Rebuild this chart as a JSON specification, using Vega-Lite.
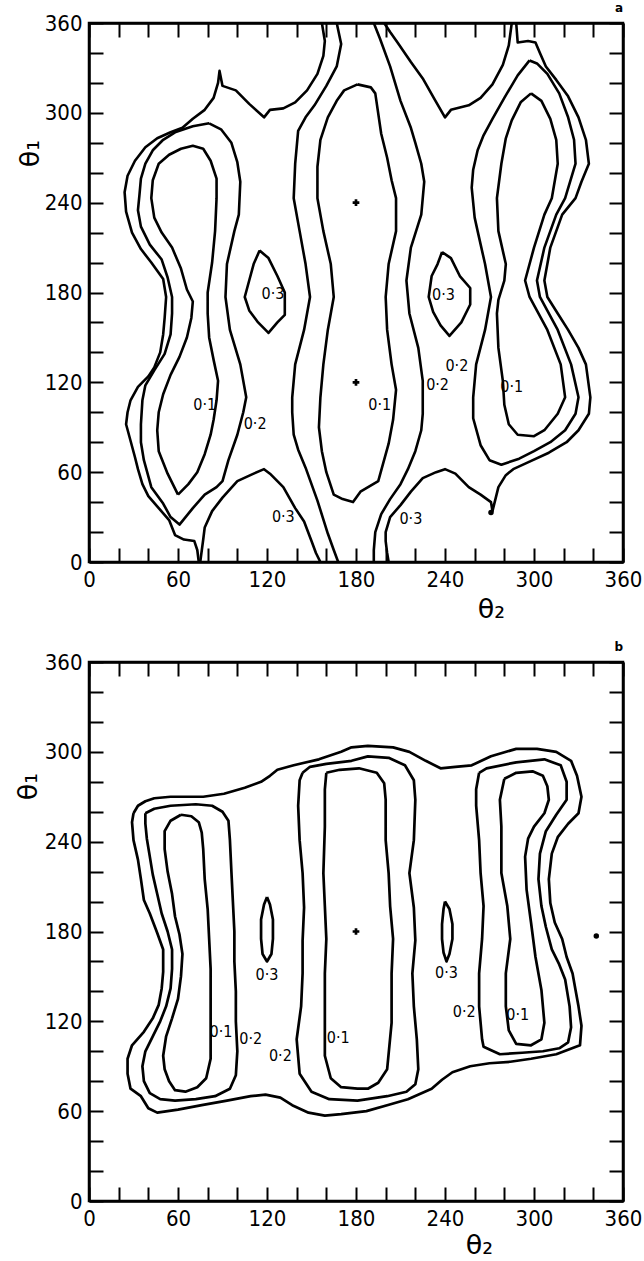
{
"$schema": "https://vega.github.io/schema/vega-lite/v6.json",
"background": "white",
"padding": {"left": 12, "top": 0, "right": 5, "bottom": 0},
"spacing": 15,
"config": {
  "view": {"stroke": "black", "strokeWidth": 2.5},
  "axis": {"grid": false, "domainColor": "black", "domainWidth": 2.5, "tickColor": "black", "tickWidth": 2, "tickSize": -14,
           "values": [0,30,60,90,120,150,180,210,240,270,300,330,360],
           "labelExpr": "datum.value % 60 == 0 ? datum.label : ''",
           "labelFont": "DejaVu Sans Condensed, Liberation Sans Narrow, DejaVu Sans", "labelFontSize": 22, "labelColor": "black",
           "labelFlush": false, "labelOverlap": false, "format": "d",
           "titleFont": "DejaVu Sans", "titleFontSize": 27, "titleFontWeight": "normal", "titleColor": "black"},
  "title": {"fontSize": 12, "fontWeight": "bold", "anchor": "end", "offset": -3, "font": "DejaVu Sans", "frame": "group"}
},
"datasets": {
"contours": [
{"p":"a","c":1,"x":74,"y":0},{"p":"a","c":1,"x":73,"y":8},{"p":"a","c":1,"x":71,"y":14},{"p":"a","c":1,"x":64,"y":15},{"p":"a","c":1,"x":58,"y":18},{"p":"a","c":1,"x":54,"y":28},{"p":"a","c":1,"x":47,"y":36},{"p":"a","c":1,"x":40,"y":44},{"p":"a","c":1,"x":36,"y":52},{"p":"a","c":1,"x":33,"y":62},{"p":"a","c":1,"x":31,"y":70},{"p":"a","c":1,"x":28,"y":81},{"p":"a","c":1,"x":25,"y":92},{"p":"a","c":1,"x":26,"y":100},{"p":"a","c":1,"x":28,"y":108},{"p":"a","c":1,"x":33,"y":117},{"p":"a","c":1,"x":40,"y":124},{"p":"a","c":1,"x":44,"y":130},{"p":"a","c":1,"x":48,"y":140},{"p":"a","c":1,"x":50,"y":152},{"p":"a","c":1,"x":51,"y":163},{"p":"a","c":1,"x":52,"y":177},{"p":"a","c":1,"x":50,"y":189},{"p":"a","c":1,"x":42,"y":200},{"p":"a","c":1,"x":35,"y":209},{"p":"a","c":1,"x":29,"y":220},{"p":"a","c":1,"x":25,"y":234},{"p":"a","c":1,"x":24,"y":247},{"p":"a","c":1,"x":26,"y":258},{"p":"a","c":1,"x":31,"y":268},{"p":"a","c":1,"x":38,"y":277},{"p":"a","c":1,"x":46,"y":283},{"p":"a","c":1,"x":55,"y":287},{"p":"a","c":1,"x":63,"y":290},{"p":"a","c":1,"x":70,"y":296},{"p":"a","c":1,"x":78,"y":302},{"p":"a","c":1,"x":84,"y":310},{"p":"a","c":1,"x":87,"y":320},{"p":"a","c":1,"x":88,"y":328},{"p":"a","c":1,"x":90,"y":318},{"p":"a","c":1,"x":99,"y":315},{"p":"a","c":1,"x":108,"y":306},{"p":"a","c":1,"x":118,"y":297},{"p":"a","c":1,"x":122,"y":302},{"p":"a","c":1,"x":131,"y":303},{"p":"a","c":1,"x":139,"y":307},{"p":"a","c":1,"x":147,"y":315},{"p":"a","c":1,"x":154,"y":326},{"p":"a","c":1,"x":158,"y":338},{"p":"a","c":1,"x":159,"y":348},{"p":"a","c":1,"x":157,"y":360},
{"p":"a","c":2,"x":81,"y":293},{"p":"a","c":2,"x":89,"y":289},{"p":"a","c":2,"x":96,"y":280},{"p":"a","c":2,"x":100,"y":267},{"p":"a","c":2,"x":102,"y":254},{"p":"a","c":2,"x":101,"y":232},{"p":"a","c":2,"x":98,"y":221},{"p":"a","c":2,"x":93,"y":199},{"p":"a","c":2,"x":92,"y":177},{"p":"a","c":2,"x":95,"y":155},{"p":"a","c":2,"x":102,"y":132},{"p":"a","c":2,"x":106,"y":110},{"p":"a","c":2,"x":104,"y":100},{"p":"a","c":2,"x":100,"y":85},{"p":"a","c":2,"x":94,"y":68},{"p":"a","c":2,"x":90,"y":54},{"p":"a","c":2,"x":86,"y":50},{"p":"a","c":2,"x":78,"y":45},{"p":"a","c":2,"x":70,"y":36},{"p":"a","c":2,"x":61,"y":25},{"p":"a","c":2,"x":55,"y":30},{"p":"a","c":2,"x":50,"y":39},{"p":"a","c":2,"x":42,"y":50},{"p":"a","c":2,"x":37,"y":68},{"p":"a","c":2,"x":35,"y":80},{"p":"a","c":2,"x":35,"y":92},{"p":"a","c":2,"x":36,"y":108},{"p":"a","c":2,"x":38,"y":118},{"p":"a","c":2,"x":44,"y":128},{"p":"a","c":2,"x":51,"y":139},{"p":"a","c":2,"x":55,"y":152},{"p":"a","c":2,"x":56,"y":166},{"p":"a","c":2,"x":56,"y":177},{"p":"a","c":2,"x":53,"y":190},{"p":"a","c":2,"x":49,"y":202},{"p":"a","c":2,"x":41,"y":212},{"p":"a","c":2,"x":35,"y":224},{"p":"a","c":2,"x":33,"y":235},{"p":"a","c":2,"x":34,"y":245},{"p":"a","c":2,"x":35,"y":256},{"p":"a","c":2,"x":38,"y":266},{"p":"a","c":2,"x":43,"y":275},{"p":"a","c":2,"x":50,"y":282},{"p":"a","c":2,"x":58,"y":287},{"p":"a","c":2,"x":70,"y":291},{"p":"a","c":2,"x":81,"y":293},
{"p":"a","c":3,"x":60,"y":45},{"p":"a","c":3,"x":53,"y":59},{"p":"a","c":3,"x":47,"y":74},{"p":"a","c":3,"x":46,"y":88},{"p":"a","c":3,"x":47,"y":100},{"p":"a","c":3,"x":50,"y":112},{"p":"a","c":3,"x":55,"y":125},{"p":"a","c":3,"x":61,"y":137},{"p":"a","c":3,"x":66,"y":150},{"p":"a","c":3,"x":69,"y":163},{"p":"a","c":3,"x":70,"y":174},{"p":"a","c":3,"x":66,"y":182},{"p":"a","c":3,"x":62,"y":196},{"p":"a","c":3,"x":56,"y":210},{"p":"a","c":3,"x":49,"y":220},{"p":"a","c":3,"x":44,"y":230},{"p":"a","c":3,"x":42,"y":243},{"p":"a","c":3,"x":43,"y":255},{"p":"a","c":3,"x":47,"y":266},{"p":"a","c":3,"x":54,"y":272},{"p":"a","c":3,"x":62,"y":276},{"p":"a","c":3,"x":70,"y":278},{"p":"a","c":3,"x":77,"y":276},{"p":"a","c":3,"x":82,"y":268},{"p":"a","c":3,"x":86,"y":256},{"p":"a","c":3,"x":86,"y":243},{"p":"a","c":3,"x":85,"y":221},{"p":"a","c":3,"x":83,"y":200},{"p":"a","c":3,"x":80,"y":180},{"p":"a","c":3,"x":80,"y":166},{"p":"a","c":3,"x":81,"y":150},{"p":"a","c":3,"x":84,"y":135},{"p":"a","c":3,"x":87,"y":121},{"p":"a","c":3,"x":86,"y":108},{"p":"a","c":3,"x":84,"y":95},{"p":"a","c":3,"x":82,"y":85},{"p":"a","c":3,"x":78,"y":72},{"p":"a","c":3,"x":73,"y":60},{"p":"a","c":3,"x":67,"y":52},{"p":"a","c":3,"x":60,"y":45},
{"p":"a","c":4,"x":75,"y":0},{"p":"a","c":4,"x":77,"y":15},{"p":"a","c":4,"x":78,"y":23},{"p":"a","c":4,"x":83,"y":34},{"p":"a","c":4,"x":90,"y":43},{"p":"a","c":4,"x":100,"y":54},{"p":"a","c":4,"x":111,"y":59},{"p":"a","c":4,"x":118,"y":62},{"p":"a","c":4,"x":122,"y":59},{"p":"a","c":4,"x":131,"y":50},{"p":"a","c":4,"x":139,"y":36},{"p":"a","c":4,"x":145,"y":27},{"p":"a","c":4,"x":150,"y":14},{"p":"a","c":4,"x":153,"y":6},{"p":"a","c":4,"x":156,"y":0},
{"p":"a","c":5,"x":115,"y":208},{"p":"a","c":5,"x":121,"y":203},{"p":"a","c":5,"x":127,"y":191},{"p":"a","c":5,"x":132,"y":180},{"p":"a","c":5,"x":132,"y":165},{"p":"a","c":5,"x":127,"y":160},{"p":"a","c":5,"x":121,"y":153},{"p":"a","c":5,"x":114,"y":160},{"p":"a","c":5,"x":108,"y":168},{"p":"a","c":5,"x":105,"y":177},{"p":"a","c":5,"x":108,"y":188},{"p":"a","c":5,"x":111,"y":199},{"p":"a","c":5,"x":115,"y":208},
{"p":"a","c":6,"x":238,"y":207},{"p":"a","c":6,"x":244,"y":203},{"p":"a","c":6,"x":250,"y":191},{"p":"a","c":6,"x":257,"y":183},{"p":"a","c":6,"x":257,"y":172},{"p":"a","c":6,"x":251,"y":160},{"p":"a","c":6,"x":243,"y":151},{"p":"a","c":6,"x":237,"y":158},{"p":"a","c":6,"x":232,"y":167},{"p":"a","c":6,"x":229,"y":177},{"p":"a","c":6,"x":231,"y":191},{"p":"a","c":6,"x":235,"y":199},{"p":"a","c":6,"x":238,"y":207},
{"p":"a","c":7,"x":167,"y":360},{"p":"a","c":7,"x":170,"y":346},{"p":"a","c":7,"x":167,"y":331},{"p":"a","c":7,"x":160,"y":318},{"p":"a","c":7,"x":152,"y":305},{"p":"a","c":7,"x":146,"y":297},{"p":"a","c":7,"x":141,"y":288},{"p":"a","c":7,"x":139,"y":266},{"p":"a","c":7,"x":138,"y":243},{"p":"a","c":7,"x":142,"y":221},{"p":"a","c":7,"x":146,"y":199},{"p":"a","c":7,"x":149,"y":177},{"p":"a","c":7,"x":145,"y":155},{"p":"a","c":7,"x":139,"y":132},{"p":"a","c":7,"x":137,"y":110},{"p":"a","c":7,"x":137,"y":100},{"p":"a","c":7,"x":138,"y":85},{"p":"a","c":7,"x":141,"y":75},{"p":"a","c":7,"x":146,"y":63},{"p":"a","c":7,"x":154,"y":41},{"p":"a","c":7,"x":161,"y":19},{"p":"a","c":7,"x":165,"y":8},{"p":"a","c":7,"x":168,"y":0},
{"p":"a","c":8,"x":181,"y":319},{"p":"a","c":8,"x":190,"y":317},{"p":"a","c":8,"x":193,"y":313},{"p":"a","c":8,"x":197,"y":286},{"p":"a","c":8,"x":201,"y":270},{"p":"a","c":8,"x":204,"y":255},{"p":"a","c":8,"x":207,"y":243},{"p":"a","c":8,"x":207,"y":221},{"p":"a","c":8,"x":202,"y":199},{"p":"a","c":8,"x":200,"y":177},{"p":"a","c":8,"x":201,"y":155},{"p":"a","c":8,"x":204,"y":132},{"p":"a","c":8,"x":207,"y":115},{"p":"a","c":8,"x":205,"y":95},{"p":"a","c":8,"x":202,"y":79},{"p":"a","c":8,"x":195,"y":54},{"p":"a","c":8,"x":183,"y":47},{"p":"a","c":8,"x":178,"y":40},{"p":"a","c":8,"x":171,"y":42},{"p":"a","c":8,"x":165,"y":45},{"p":"a","c":8,"x":160,"y":60},{"p":"a","c":8,"x":157,"y":74},{"p":"a","c":8,"x":155,"y":90},{"p":"a","c":8,"x":156,"y":110},{"p":"a","c":8,"x":158,"y":132},{"p":"a","c":8,"x":161,"y":155},{"p":"a","c":8,"x":165,"y":177},{"p":"a","c":8,"x":163,"y":199},{"p":"a","c":8,"x":158,"y":221},{"p":"a","c":8,"x":154,"y":243},{"p":"a","c":8,"x":154,"y":264},{"p":"a","c":8,"x":156,"y":282},{"p":"a","c":8,"x":161,"y":297},{"p":"a","c":8,"x":167,"y":308},{"p":"a","c":8,"x":172,"y":315},{"p":"a","c":8,"x":181,"y":319},
{"p":"a","c":9,"x":192,"y":360},{"p":"a","c":9,"x":196,"y":350},{"p":"a","c":9,"x":203,"y":331},{"p":"a","c":9,"x":210,"y":308},{"p":"a","c":9,"x":217,"y":290},{"p":"a","c":9,"x":220,"y":280},{"p":"a","c":9,"x":224,"y":266},{"p":"a","c":9,"x":226,"y":254},{"p":"a","c":9,"x":224,"y":232},{"p":"a","c":9,"x":217,"y":210},{"p":"a","c":9,"x":214,"y":188},{"p":"a","c":9,"x":216,"y":166},{"p":"a","c":9,"x":222,"y":143},{"p":"a","c":9,"x":225,"y":121},{"p":"a","c":9,"x":225,"y":99},{"p":"a","c":9,"x":224,"y":88},{"p":"a","c":9,"x":220,"y":74},{"p":"a","c":9,"x":215,"y":62},{"p":"a","c":9,"x":210,"y":52},{"p":"a","c":9,"x":203,"y":42},{"p":"a","c":9,"x":197,"y":32},{"p":"a","c":9,"x":193,"y":20},{"p":"a","c":9,"x":192,"y":8},{"p":"a","c":9,"x":192,"y":0},
{"p":"a","c":10,"x":199,"y":360},{"p":"a","c":10,"x":203,"y":354},{"p":"a","c":10,"x":208,"y":347},{"p":"a","c":10,"x":217,"y":334},{"p":"a","c":10,"x":225,"y":323},{"p":"a","c":10,"x":233,"y":309},{"p":"a","c":10,"x":240,"y":297},{"p":"a","c":10,"x":244,"y":302},{"p":"a","c":10,"x":256,"y":305},{"p":"a","c":10,"x":264,"y":310},{"p":"a","c":10,"x":272,"y":319},{"p":"a","c":10,"x":279,"y":332},{"p":"a","c":10,"x":283,"y":345},{"p":"a","c":10,"x":285,"y":360},
{"p":"a","c":11,"x":288,"y":360},{"p":"a","c":11,"x":289,"y":347},{"p":"a","c":11,"x":296,"y":348},{"p":"a","c":11,"x":301,"y":347},{"p":"a","c":11,"x":304,"y":340},{"p":"a","c":11,"x":308,"y":331},{"p":"a","c":11,"x":315,"y":322},{"p":"a","c":11,"x":323,"y":311},{"p":"a","c":11,"x":330,"y":297},{"p":"a","c":11,"x":335,"y":282},{"p":"a","c":11,"x":337,"y":266},{"p":"a","c":11,"x":332,"y":254},{"p":"a","c":11,"x":328,"y":243},{"p":"a","c":11,"x":319,"y":232},{"p":"a","c":11,"x":311,"y":210},{"p":"a","c":11,"x":307,"y":188},{"p":"a","c":11,"x":309,"y":177},{"p":"a","c":11,"x":316,"y":166},{"p":"a","c":11,"x":323,"y":155},{"p":"a","c":11,"x":330,"y":143},{"p":"a","c":11,"x":335,"y":132},{"p":"a","c":11,"x":338,"y":110},{"p":"a","c":11,"x":337,"y":99},{"p":"a","c":11,"x":330,"y":88},{"p":"a","c":11,"x":322,"y":80},{"p":"a","c":11,"x":310,"y":73},{"p":"a","c":11,"x":297,"y":67},{"p":"a","c":11,"x":286,"y":62},{"p":"a","c":11,"x":281,"y":58},{"p":"a","c":11,"x":276,"y":50},{"p":"a","c":11,"x":274,"y":42},{"p":"a","c":11,"x":272,"y":34},{"p":"a","c":11,"x":271,"y":40},{"p":"a","c":11,"x":264,"y":45},{"p":"a","c":11,"x":256,"y":50},{"p":"a","c":11,"x":247,"y":59},{"p":"a","c":11,"x":240,"y":62},{"p":"a","c":11,"x":234,"y":60},{"p":"a","c":11,"x":225,"y":56},{"p":"a","c":11,"x":217,"y":47},{"p":"a","c":11,"x":210,"y":38},{"p":"a","c":11,"x":203,"y":30},{"p":"a","c":11,"x":200,"y":20},{"p":"a","c":11,"x":200,"y":14},{"p":"a","c":11,"x":201,"y":6},{"p":"a","c":11,"x":202,"y":0},
{"p":"a","c":12,"x":297,"y":335},{"p":"a","c":12,"x":289,"y":325},{"p":"a","c":12,"x":280,"y":310},{"p":"a","c":12,"x":272,"y":296},{"p":"a","c":12,"x":266,"y":285},{"p":"a","c":12,"x":262,"y":275},{"p":"a","c":12,"x":259,"y":262},{"p":"a","c":12,"x":258,"y":250},{"p":"a","c":12,"x":260,"y":230},{"p":"a","c":12,"x":262,"y":221},{"p":"a","c":12,"x":267,"y":199},{"p":"a","c":12,"x":271,"y":177},{"p":"a","c":12,"x":267,"y":155},{"p":"a","c":12,"x":261,"y":132},{"p":"a","c":12,"x":259,"y":110},{"p":"a","c":12,"x":259,"y":96},{"p":"a","c":12,"x":264,"y":78},{"p":"a","c":12,"x":270,"y":68},{"p":"a","c":12,"x":278,"y":65},{"p":"a","c":12,"x":290,"y":69},{"p":"a","c":12,"x":300,"y":74},{"p":"a","c":12,"x":311,"y":80},{"p":"a","c":12,"x":321,"y":88},{"p":"a","c":12,"x":328,"y":99},{"p":"a","c":12,"x":330,"y":110},{"p":"a","c":12,"x":325,"y":132},{"p":"a","c":12,"x":316,"y":155},{"p":"a","c":12,"x":304,"y":177},{"p":"a","c":12,"x":302,"y":188},{"p":"a","c":12,"x":307,"y":210},{"p":"a","c":12,"x":315,"y":232},{"p":"a","c":12,"x":321,"y":243},{"p":"a","c":12,"x":328,"y":266},{"p":"a","c":12,"x":327,"y":282},{"p":"a","c":12,"x":323,"y":297},{"p":"a","c":12,"x":317,"y":313},{"p":"a","c":12,"x":309,"y":326},{"p":"a","c":12,"x":302,"y":333},{"p":"a","c":12,"x":297,"y":335},
{"p":"a","c":13,"x":298,"y":313},{"p":"a","c":13,"x":291,"y":307},{"p":"a","c":13,"x":285,"y":295},{"p":"a","c":13,"x":281,"y":283},{"p":"a","c":13,"x":278,"y":266},{"p":"a","c":13,"x":275,"y":243},{"p":"a","c":13,"x":276,"y":221},{"p":"a","c":13,"x":281,"y":199},{"p":"a","c":13,"x":280,"y":188},{"p":"a","c":13,"x":276,"y":175},{"p":"a","c":13,"x":275,"y":166},{"p":"a","c":13,"x":276,"y":143},{"p":"a","c":13,"x":279,"y":121},{"p":"a","c":13,"x":280,"y":105},{"p":"a","c":13,"x":283,"y":92},{"p":"a","c":13,"x":289,"y":85},{"p":"a","c":13,"x":300,"y":84},{"p":"a","c":13,"x":307,"y":88},{"p":"a","c":13,"x":316,"y":99},{"p":"a","c":13,"x":321,"y":110},{"p":"a","c":13,"x":318,"y":132},{"p":"a","c":13,"x":309,"y":155},{"p":"a","c":13,"x":303,"y":166},{"p":"a","c":13,"x":297,"y":177},{"p":"a","c":13,"x":294,"y":188},{"p":"a","c":13,"x":300,"y":210},{"p":"a","c":13,"x":307,"y":232},{"p":"a","c":13,"x":312,"y":243},{"p":"a","c":13,"x":316,"y":266},{"p":"a","c":13,"x":315,"y":282},{"p":"a","c":13,"x":311,"y":296},{"p":"a","c":13,"x":305,"y":308},{"p":"a","c":13,"x":298,"y":313},
{"p":"b","c":1,"x":30,"y":259},{"p":"b","c":1,"x":33,"y":264},{"p":"b","c":1,"x":38,"y":267},{"p":"b","c":1,"x":44,"y":269},{"p":"b","c":1,"x":55,"y":270},{"p":"b","c":1,"x":77,"y":270},{"p":"b","c":1,"x":91,"y":272},{"p":"b","c":1,"x":105,"y":276},{"p":"b","c":1,"x":116,"y":280},{"p":"b","c":1,"x":122,"y":284},{"p":"b","c":1,"x":127,"y":288},{"p":"b","c":1,"x":138,"y":291},{"p":"b","c":1,"x":155,"y":295},{"p":"b","c":1,"x":170,"y":300},{"p":"b","c":1,"x":177,"y":303},{"p":"b","c":1,"x":188,"y":304},{"p":"b","c":1,"x":205,"y":303},{"p":"b","c":1,"x":216,"y":300},{"p":"b","c":1,"x":227,"y":294},{"p":"b","c":1,"x":237,"y":289},{"p":"b","c":1,"x":247,"y":290},{"p":"b","c":1,"x":258,"y":291},{"p":"b","c":1,"x":271,"y":297},{"p":"b","c":1,"x":288,"y":302},{"p":"b","c":1,"x":302,"y":302},{"p":"b","c":1,"x":315,"y":300},{"p":"b","c":1,"x":325,"y":294},{"p":"b","c":1,"x":329,"y":284},{"p":"b","c":1,"x":332,"y":270},{"p":"b","c":1,"x":330,"y":259},{"p":"b","c":1,"x":323,"y":252},{"p":"b","c":1,"x":316,"y":243},{"p":"b","c":1,"x":312,"y":232},{"p":"b","c":1,"x":310,"y":215},{"p":"b","c":1,"x":311,"y":199},{"p":"b","c":1,"x":314,"y":186},{"p":"b","c":1,"x":319,"y":175},{"p":"b","c":1,"x":322,"y":163},{"p":"b","c":1,"x":326,"y":152},{"p":"b","c":1,"x":328,"y":141},{"p":"b","c":1,"x":330,"y":130},{"p":"b","c":1,"x":332,"y":117},{"p":"b","c":1,"x":331,"y":104},{"p":"b","c":1,"x":315,"y":98},{"p":"b","c":1,"x":298,"y":95},{"p":"b","c":1,"x":284,"y":93},{"p":"b","c":1,"x":270,"y":92},{"p":"b","c":1,"x":257,"y":90},{"p":"b","c":1,"x":245,"y":86},{"p":"b","c":1,"x":238,"y":81},{"p":"b","c":1,"x":231,"y":75},{"p":"b","c":1,"x":215,"y":68},{"p":"b","c":1,"x":201,"y":64},{"p":"b","c":1,"x":187,"y":60},{"p":"b","c":1,"x":170,"y":58},{"p":"b","c":1,"x":159,"y":57},{"p":"b","c":1,"x":148,"y":59},{"p":"b","c":1,"x":137,"y":64},{"p":"b","c":1,"x":129,"y":69},{"p":"b","c":1,"x":119,"y":71},{"p":"b","c":1,"x":109,"y":70},{"p":"b","c":1,"x":93,"y":67},{"p":"b","c":1,"x":76,"y":64},{"p":"b","c":1,"x":60,"y":61},{"p":"b","c":1,"x":46,"y":59},{"p":"b","c":1,"x":40,"y":62},{"p":"b","c":1,"x":35,"y":70},{"p":"b","c":1,"x":28,"y":75},{"p":"b","c":1,"x":26,"y":85},{"p":"b","c":1,"x":26,"y":95},{"p":"b","c":1,"x":29,"y":104},{"p":"b","c":1,"x":37,"y":113},{"p":"b","c":1,"x":43,"y":122},{"p":"b","c":1,"x":47,"y":131},{"p":"b","c":1,"x":49,"y":142},{"p":"b","c":1,"x":50,"y":153},{"p":"b","c":1,"x":50,"y":168},{"p":"b","c":1,"x":46,"y":179},{"p":"b","c":1,"x":41,"y":192},{"p":"b","c":1,"x":37,"y":201},{"p":"b","c":1,"x":35,"y":215},{"p":"b","c":1,"x":33,"y":228},{"p":"b","c":1,"x":30,"y":241},{"p":"b","c":1,"x":29,"y":253},{"p":"b","c":1,"x":30,"y":259},
{"p":"b","c":2,"x":38,"y":259},{"p":"b","c":2,"x":44,"y":262},{"p":"b","c":2,"x":55,"y":264},{"p":"b","c":2,"x":72,"y":265},{"p":"b","c":2,"x":83,"y":264},{"p":"b","c":2,"x":90,"y":260},{"p":"b","c":2,"x":94,"y":254},{"p":"b","c":2,"x":95,"y":241},{"p":"b","c":2,"x":96,"y":220},{"p":"b","c":2,"x":97,"y":200},{"p":"b","c":2,"x":98,"y":180},{"p":"b","c":2,"x":98,"y":160},{"p":"b","c":2,"x":99,"y":140},{"p":"b","c":2,"x":99,"y":120},{"p":"b","c":2,"x":100,"y":100},{"p":"b","c":2,"x":99,"y":84},{"p":"b","c":2,"x":95,"y":75},{"p":"b","c":2,"x":85,"y":70},{"p":"b","c":2,"x":72,"y":68},{"p":"b","c":2,"x":58,"y":67},{"p":"b","c":2,"x":48,"y":68},{"p":"b","c":2,"x":41,"y":72},{"p":"b","c":2,"x":37,"y":80},{"p":"b","c":2,"x":36,"y":90},{"p":"b","c":2,"x":38,"y":100},{"p":"b","c":2,"x":43,"y":110},{"p":"b","c":2,"x":48,"y":120},{"p":"b","c":2,"x":52,"y":130},{"p":"b","c":2,"x":55,"y":142},{"p":"b","c":2,"x":56,"y":155},{"p":"b","c":2,"x":56,"y":168},{"p":"b","c":2,"x":53,"y":180},{"p":"b","c":2,"x":49,"y":192},{"p":"b","c":2,"x":46,"y":205},{"p":"b","c":2,"x":43,"y":218},{"p":"b","c":2,"x":41,"y":230},{"p":"b","c":2,"x":39,"y":242},{"p":"b","c":2,"x":38,"y":252},{"p":"b","c":2,"x":38,"y":259},
{"p":"b","c":3,"x":62,"y":258},{"p":"b","c":3,"x":69,"y":257},{"p":"b","c":3,"x":74,"y":253},{"p":"b","c":3,"x":76,"y":246},{"p":"b","c":3,"x":77,"y":235},{"p":"b","c":3,"x":78,"y":215},{"p":"b","c":3,"x":80,"y":195},{"p":"b","c":3,"x":81,"y":175},{"p":"b","c":3,"x":82,"y":155},{"p":"b","c":3,"x":82,"y":135},{"p":"b","c":3,"x":82,"y":115},{"p":"b","c":3,"x":82,"y":95},{"p":"b","c":3,"x":79,"y":82},{"p":"b","c":3,"x":73,"y":76},{"p":"b","c":3,"x":65,"y":73},{"p":"b","c":3,"x":58,"y":74},{"p":"b","c":3,"x":54,"y":80},{"p":"b","c":3,"x":51,"y":88},{"p":"b","c":3,"x":50,"y":97},{"p":"b","c":3,"x":52,"y":110},{"p":"b","c":3,"x":56,"y":122},{"p":"b","c":3,"x":60,"y":135},{"p":"b","c":3,"x":62,"y":150},{"p":"b","c":3,"x":63,"y":165},{"p":"b","c":3,"x":61,"y":178},{"p":"b","c":3,"x":58,"y":190},{"p":"b","c":3,"x":56,"y":205},{"p":"b","c":3,"x":53,"y":220},{"p":"b","c":3,"x":51,"y":235},{"p":"b","c":3,"x":51,"y":247},{"p":"b","c":3,"x":55,"y":254},{"p":"b","c":3,"x":62,"y":258},
{"p":"b","c":4,"x":144,"y":286},{"p":"b","c":4,"x":149,"y":290},{"p":"b","c":4,"x":160,"y":292},{"p":"b","c":4,"x":177,"y":294},{"p":"b","c":4,"x":188,"y":297},{"p":"b","c":4,"x":202,"y":296},{"p":"b","c":4,"x":213,"y":291},{"p":"b","c":4,"x":219,"y":281},{"p":"b","c":4,"x":220,"y":268},{"p":"b","c":4,"x":219,"y":241},{"p":"b","c":4,"x":216,"y":219},{"p":"b","c":4,"x":219,"y":196},{"p":"b","c":4,"x":220,"y":174},{"p":"b","c":4,"x":218,"y":152},{"p":"b","c":4,"x":219,"y":130},{"p":"b","c":4,"x":221,"y":108},{"p":"b","c":4,"x":222,"y":88},{"p":"b","c":4,"x":220,"y":78},{"p":"b","c":4,"x":214,"y":73},{"p":"b","c":4,"x":201,"y":70},{"p":"b","c":4,"x":181,"y":67},{"p":"b","c":4,"x":162,"y":68},{"p":"b","c":4,"x":150,"y":73},{"p":"b","c":4,"x":142,"y":85},{"p":"b","c":4,"x":140,"y":108},{"p":"b","c":4,"x":143,"y":130},{"p":"b","c":4,"x":144,"y":152},{"p":"b","c":4,"x":144,"y":174},{"p":"b","c":4,"x":145,"y":196},{"p":"b","c":4,"x":144,"y":219},{"p":"b","c":4,"x":142,"y":241},{"p":"b","c":4,"x":141,"y":264},{"p":"b","c":4,"x":142,"y":281},{"p":"b","c":4,"x":144,"y":286},
{"p":"b","c":5,"x":160,"y":286},{"p":"b","c":5,"x":169,"y":288},{"p":"b","c":5,"x":182,"y":289},{"p":"b","c":5,"x":194,"y":286},{"p":"b","c":5,"x":199,"y":279},{"p":"b","c":5,"x":200,"y":268},{"p":"b","c":5,"x":200,"y":241},{"p":"b","c":5,"x":202,"y":219},{"p":"b","c":5,"x":203,"y":197},{"p":"b","c":5,"x":205,"y":175},{"p":"b","c":5,"x":204,"y":152},{"p":"b","c":5,"x":204,"y":119},{"p":"b","c":5,"x":201,"y":88},{"p":"b","c":5,"x":195,"y":79},{"p":"b","c":5,"x":188,"y":75},{"p":"b","c":5,"x":181,"y":75},{"p":"b","c":5,"x":170,"y":76},{"p":"b","c":5,"x":163,"y":82},{"p":"b","c":5,"x":159,"y":97},{"p":"b","c":5,"x":159,"y":119},{"p":"b","c":5,"x":159,"y":152},{"p":"b","c":5,"x":160,"y":175},{"p":"b","c":5,"x":159,"y":197},{"p":"b","c":5,"x":158,"y":219},{"p":"b","c":5,"x":159,"y":250},{"p":"b","c":5,"x":159,"y":275},{"p":"b","c":5,"x":160,"y":286},
{"p":"b","c":6,"x":263,"y":286},{"p":"b","c":6,"x":268,"y":289},{"p":"b","c":6,"x":288,"y":293},{"p":"b","c":6,"x":307,"y":295},{"p":"b","c":6,"x":318,"y":291},{"p":"b","c":6,"x":322,"y":280},{"p":"b","c":6,"x":322,"y":268},{"p":"b","c":6,"x":315,"y":258},{"p":"b","c":6,"x":308,"y":247},{"p":"b","c":6,"x":304,"y":232},{"p":"b","c":6,"x":303,"y":215},{"p":"b","c":6,"x":305,"y":197},{"p":"b","c":6,"x":308,"y":183},{"p":"b","c":6,"x":312,"y":168},{"p":"b","c":6,"x":317,"y":158},{"p":"b","c":6,"x":321,"y":148},{"p":"b","c":6,"x":324,"y":130},{"p":"b","c":6,"x":325,"y":116},{"p":"b","c":6,"x":323,"y":106},{"p":"b","c":6,"x":317,"y":102},{"p":"b","c":6,"x":306,"y":100},{"p":"b","c":6,"x":292,"y":99},{"p":"b","c":6,"x":277,"y":98},{"p":"b","c":6,"x":266,"y":103},{"p":"b","c":6,"x":265,"y":108},{"p":"b","c":6,"x":263,"y":130},{"p":"b","c":6,"x":263,"y":152},{"p":"b","c":6,"x":265,"y":175},{"p":"b","c":6,"x":266,"y":197},{"p":"b","c":6,"x":264,"y":219},{"p":"b","c":6,"x":263,"y":241},{"p":"b","c":6,"x":261,"y":264},{"p":"b","c":6,"x":261,"y":275},{"p":"b","c":6,"x":263,"y":286},
{"p":"b","c":7,"x":280,"y":282},{"p":"b","c":7,"x":288,"y":286},{"p":"b","c":7,"x":299,"y":287},{"p":"b","c":7,"x":306,"y":284},{"p":"b","c":7,"x":309,"y":277},{"p":"b","c":7,"x":310,"y":268},{"p":"b","c":7,"x":307,"y":259},{"p":"b","c":7,"x":300,"y":250},{"p":"b","c":7,"x":296,"y":242},{"p":"b","c":7,"x":294,"y":230},{"p":"b","c":7,"x":295,"y":208},{"p":"b","c":7,"x":298,"y":186},{"p":"b","c":7,"x":301,"y":163},{"p":"b","c":7,"x":305,"y":141},{"p":"b","c":7,"x":307,"y":119},{"p":"b","c":7,"x":305,"y":108},{"p":"b","c":7,"x":298,"y":104},{"p":"b","c":7,"x":288,"y":105},{"p":"b","c":7,"x":283,"y":114},{"p":"b","c":7,"x":281,"y":130},{"p":"b","c":7,"x":281,"y":152},{"p":"b","c":7,"x":284,"y":175},{"p":"b","c":7,"x":282,"y":197},{"p":"b","c":7,"x":278,"y":219},{"p":"b","c":7,"x":278,"y":250},{"p":"b","c":7,"x":277,"y":268},{"p":"b","c":7,"x":280,"y":282},
{"p":"b","c":8,"x":120,"y":203},{"p":"b","c":8,"x":122,"y":198},{"p":"b","c":8,"x":124,"y":188},{"p":"b","c":8,"x":124,"y":175},{"p":"b","c":8,"x":123,"y":165},{"p":"b","c":8,"x":120,"y":160},{"p":"b","c":8,"x":117,"y":165},{"p":"b","c":8,"x":116,"y":175},{"p":"b","c":8,"x":116,"y":188},{"p":"b","c":8,"x":118,"y":198},{"p":"b","c":8,"x":120,"y":203},
{"p":"b","c":9,"x":240,"y":200},{"p":"b","c":9,"x":243,"y":195},{"p":"b","c":9,"x":245,"y":185},{"p":"b","c":9,"x":245,"y":175},{"p":"b","c":9,"x":243,"y":165},{"p":"b","c":9,"x":241,"y":160},{"p":"b","c":9,"x":239,"y":166},{"p":"b","c":9,"x":238,"y":175},{"p":"b","c":9,"x":238,"y":185},{"p":"b","c":9,"x":239,"y":195},{"p":"b","c":9,"x":240,"y":200}
],
"labels": [
{"p":"a","x":124,"y":179,"t":"0·3"},{"p":"a","x":239,"y":178,"t":"0·3"},{"p":"a","x":78,"y":105,"t":"0·1"},{"p":"a","x":112,"y":92,"t":"0·2"},{"p":"a","x":131,"y":30,"t":"0·3"},{"p":"a","x":196,"y":105,"t":"0·1"},{"p":"a","x":235,"y":118,"t":"0·2"},{"p":"a","x":248,"y":131,"t":"0·2"},{"p":"a","x":285,"y":117,"t":"0·1"},{"p":"a","x":217,"y":29,"t":"0·3"},
{"p":"b","x":120,"y":151,"t":"0·3"},{"p":"b","x":241,"y":152,"t":"0·3"},{"p":"b","x":89,"y":113,"t":"0·1"},{"p":"b","x":109,"y":108,"t":"0·2"},{"p":"b","x":129,"y":97,"t":"0·2"},{"p":"b","x":168,"y":109,"t":"0·1"},{"p":"b","x":253,"y":126,"t":"0·2"},{"p":"b","x":289,"y":124,"t":"0·1"}
],
"points": [
{"p":"a","x":180,"y":240,"s":"cross","z":45},{"p":"a","x":180,"y":120,"s":"cross","z":45},{"p":"a","x":271,"y":33,"s":"circle","z":30},
{"p":"b","x":180,"y":180,"s":"cross","z":45},{"p":"b","x":342,"y":177,"s":"circle","z":30}
]
},
"vconcat": [
{
  "width": 534, "height": 539,
  "title": {"text": "a"},
  "resolve": {"axis": {"x": "independent", "y": "independent"}},
  "layer": [
    {
      "data": {"name": "contours"},
      "transform": [{"filter": "datum.p == 'a'"}],
      "mark": {"type": "line", "stroke": "black", "strokeWidth": 2.6, "strokeJoin": "round", "clip": true},
      "encoding": {
        "x": {"field": "x", "type": "quantitative", "scale": {"domain": [0, 360], "nice": false, "zero": false},
              "axis": {"orient": "bottom", "labelPadding": 21, "title": "θ₂", "titleX": 402, "titleY": 47, "titleAlign": "center", "titleBaseline": "middle", "titleAnchor": null}},
        "y": {"field": "y", "type": "quantitative", "scale": {"domain": [0, 360], "nice": false, "zero": false},
              "axis": {"orient": "left", "labelPadding": 21, "title": "θ₁", "titleX": -59, "titleY": 130, "titleAngle": -90, "titleAlign": "center", "titleBaseline": "middle", "titleAnchor": null}},
        "detail": {"field": "c", "type": "nominal"},
        "order": {"value": null}
      }
    },
    {
      "data": {"name": "labels"},
      "transform": [{"filter": "datum.p == 'a'"}],
      "mark": {"type": "text", "font": "DejaVu Sans Condensed, Liberation Sans Narrow, DejaVu Sans", "fontSize": 16, "color": "black"},
      "encoding": {
        "x": {"field": "x", "type": "quantitative", "axis": {"orient": "top", "labels": false, "title": null, "minExtent": 0, "maxExtent": 0}},
        "y": {"field": "y", "type": "quantitative", "axis": {"orient": "right", "labels": false, "title": null, "minExtent": 0, "maxExtent": 0}},
        "text": {"field": "t"}
      }
    },
    {
      "data": {"name": "points"},
      "transform": [{"filter": "datum.p == 'a'"}],
      "mark": {"type": "point", "filled": true, "color": "black", "opacity": 1},
      "encoding": {
        "x": {"field": "x", "type": "quantitative", "axis": null},
        "y": {"field": "y", "type": "quantitative", "axis": null},
        "shape": {"field": "s", "type": "nominal", "scale": null},
        "size": {"field": "z", "type": "quantitative", "scale": null}
      }
    }
  ]
},
{
  "width": 534, "height": 539,
  "title": {"text": "b"},
  "resolve": {"axis": {"x": "independent", "y": "independent"}},
  "layer": [
    {
      "data": {"name": "contours"},
      "transform": [{"filter": "datum.p == 'b'"}],
      "mark": {"type": "line", "stroke": "black", "strokeWidth": 2.7, "strokeJoin": "round", "clip": true},
      "encoding": {
        "x": {"field": "x", "type": "quantitative", "scale": {"domain": [0, 360], "nice": false, "zero": false},
              "axis": {"orient": "bottom", "labelPadding": 21, "title": "θ₂", "titleX": 390, "titleY": 44, "titleAlign": "center", "titleBaseline": "middle", "titleAnchor": null}},
        "y": {"field": "y", "type": "quantitative", "scale": {"domain": [0, 360], "nice": false, "zero": false},
              "axis": {"orient": "left", "labelPadding": 21, "title": "θ₁", "titleX": -61, "titleY": 124, "titleAngle": -90, "titleAlign": "center", "titleBaseline": "middle", "titleAnchor": null}},
        "detail": {"field": "c", "type": "nominal"},
        "order": {"value": null}
      }
    },
    {
      "data": {"name": "labels"},
      "transform": [{"filter": "datum.p == 'b'"}],
      "mark": {"type": "text", "font": "DejaVu Sans Condensed, Liberation Sans Narrow, DejaVu Sans", "fontSize": 16, "color": "black"},
      "encoding": {
        "x": {"field": "x", "type": "quantitative", "axis": {"orient": "top", "labels": false, "title": null, "minExtent": 0, "maxExtent": 0}},
        "y": {"field": "y", "type": "quantitative", "axis": {"orient": "right", "labels": false, "title": null, "minExtent": 0, "maxExtent": 0}},
        "text": {"field": "t"}
      }
    },
    {
      "data": {"name": "points"},
      "transform": [{"filter": "datum.p == 'b'"}],
      "mark": {"type": "point", "filled": true, "color": "black", "opacity": 1},
      "encoding": {
        "x": {"field": "x", "type": "quantitative", "axis": null},
        "y": {"field": "y", "type": "quantitative", "axis": null},
        "shape": {"field": "s", "type": "nominal", "scale": null},
        "size": {"field": "z", "type": "quantitative", "scale": null}
      }
    }
  ]
}
]
}
